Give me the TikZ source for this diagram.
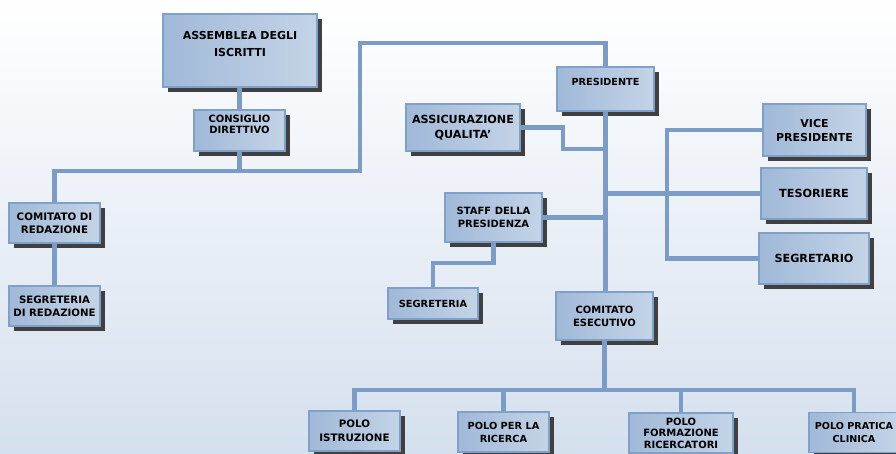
\documentclass[tikz,border=0pt]{standalone}
\usepackage{fontspec}
\setmainfont{DejaVu Sans}
\usetikzlibrary{shadows}

\definecolor{conncol}{HTML}{7B9CC6}
\definecolor{boxedge}{HTML}{7EA0C9}
\definecolor{boxleft}{HTML}{A0B9D8}
\definecolor{boxright}{HTML}{C4D4E7}
\definecolor{shadowcol}{HTML}{404040}
\definecolor{bgbottom}{HTML}{D5E0EE}
\newcommand\orgfont[2]{\fontsize{#1}{#2}\selectfont\bfseries}

\begin{document}
\begin{tikzpicture}[x=1pt,y=-1pt,
    box/.style={draw=boxedge, line width=1.5pt, left color=boxleft, right color=boxright,
      drop shadow={shadow xshift=5pt, shadow yshift=-5pt, opacity=1, fill=shadowcol},
      align=center, inner sep=0pt},
    conn/.style={draw=conncol, line width=4.5pt}]
  \useasboundingbox (0,0) rectangle (896,453);
  \shade[top color=white, bottom color=bgbottom] (0,0) rectangle (896,453);

  % left side
  \node[box, minimum width=154pt, minimum height=73pt] (ass) at (240,50.5) {};
  \node[font=\orgfont{11}{17}, align=center] (ass-txt) at (240,44) {ASSEMBLEA DEGLI\\ISCRITTI};
  \node[box, minimum width=91pt, minimum height=41pt] (cons) at (239.5,130.5) {};
  \node[font=\orgfont{10}{11.5}, align=center] (cons-txt) at (239.5,124.5) {CONSIGLIO\\DIRETTIVO};
  \node[box, font=\orgfont{10.3}{13}, minimum width=91pt, minimum height=40pt] (cdr) at (54.5,223) {COMITATO DI\\REDAZIONE};
  \node[box, font=\orgfont{10.2}{13}, minimum width=91pt, minimum height=40pt] (sdr) at (54.5,306) {SEGRETERIA\\DI REDAZIONE};

  % presidenza
  \node[box, minimum width=97pt, minimum height=44pt] (pres) at (605.5,89) {};
  \node[font=\orgfont{9.7}{12}] (pres-txt) at (605.5,82) {PRESIDENTE};
  \node[box, font=\orgfont{11.2}{15}, minimum width=114pt, minimum height=47pt] (aq) at (463,127.5) {ASSICURAZIONE\\QUALITA'};
  \node[box, font=\orgfont{10}{13}, minimum width=97pt, minimum height=49pt] (staff) at (493.5,217.5) {STAFF DELLA\\PRESIDENZA};
  \node[box, font=\orgfont{9.8}{12}, minimum width=90pt, minimum height=31pt] (segr) at (433,303.5) {SEGRETERIA};
  \node[box, font=\orgfont{10}{13}, minimum width=97pt, minimum height=48pt] (ce) at (604.5,316) {COMITATO\\ESECUTIVO};
  \node[box, font=\orgfont{11}{14}, minimum width=103pt, minimum height=52pt] (vp) at (814.5,130) {VICE\\PRESIDENTE};
  \node[box, font=\orgfont{11.2}{14}, minimum width=106pt, minimum height=51pt] (tes) at (814,193.5) {TESORIERE};
  \node[box, font=\orgfont{11.2}{14}, minimum width=110pt, minimum height=51pt] (segt) at (814,258.5) {SEGRETARIO};

  % poli
  \node[box, font=\orgfont{10.3}{14}, minimum width=91pt, minimum height=40pt] (pi) at (354.5,431) {POLO\\ISTRUZIONE};
  \node[box, font=\orgfont{9.8}{13}, minimum width=91pt, minimum height=40pt] (pr) at (503.5,432) {POLO PER LA\\RICERCA};
  \node[box, font=\orgfont{10}{11.5}, minimum width=104pt, minimum height=40pt] (pf) at (681,433) {POLO\\FORMAZIONE\\RICERCATORI};
  \node[box, font=\orgfont{9.6}{13}, minimum width=90pt, minimum height=40pt] (pc) at (854,432.5) {POLO PRATICA\\CLINICA};

  \coordinate (jA) at (360,171);
  \coordinate (jB) at (360,43);
  \coordinate (aqk) at (563,149);
  \coordinate (brk) at (667,193.5);
  \coordinate (stk) at (433,263);
  \coordinate (bus) at (604.5,390);

  \draw[conn] (cons.north |- ass.south) -- (cons.north);
  \draw[conn] (cons.south) -- (cons.south |- jA);
  \draw[conn] (cdr.north) |- (jA) -- (jB) -| (pres.north);
  \draw[conn] (cdr.south) -- (sdr.north);
  \draw[conn] (pres.south) -- (pres.south |- ce.north);
  \draw[conn] (aq.east) -| (aqk) -- (aqk -| pres.south);
  \draw[conn] (staff.east) -- (staff.east -| pres.south);
  \draw[conn] (pres.south |- tes.west) -- (tes.west);
  \draw[conn] (vp.west) -| (brk) |- (segt.west);
  \draw[conn] (staff.south) |- (stk) -- (segr.north);
  \draw[conn] (ce.south) -- (bus);
  \draw[conn] (pi.north) |- (bus) -| (pc.north);
  \draw[conn] (pr.north) -- (pr.north |- bus);
  \draw[conn] (pf.north) -- (pf.north |- bus);
\end{tikzpicture}
\end{document}
